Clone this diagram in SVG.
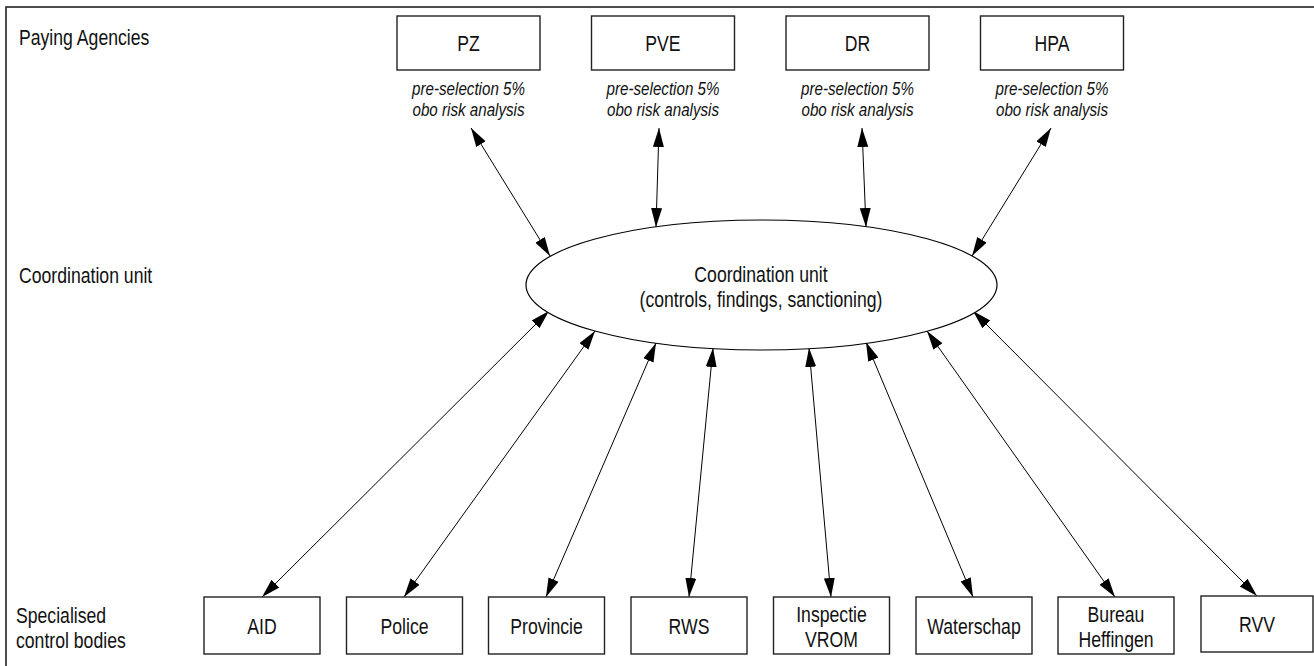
<svg xmlns="http://www.w3.org/2000/svg" width="1314" height="666" viewBox="0 0 1314 666">
<style>
text{font-family:"Liberation Sans",Arial,sans-serif;fill:#111;}
.lbl{font-size:21.5px;}
.c{text-anchor:middle;}
.note{font-size:18.5px;font-style:italic;text-anchor:middle;}
.box{fill:#fff;stroke:#222;stroke-width:1.4;}
.con{stroke:#000;stroke-width:1;fill:none;marker-start:url(#ah);marker-end:url(#ah);}
</style>
<defs>
<marker id="ah" markerUnits="userSpaceOnUse" markerWidth="20" markerHeight="12" refX="19" refY="5.5" orient="auto-start-reverse" viewBox="0 0 20 12">
<path d="M0,0 L19,5.5 L0,11 Z" fill="#000"/>
</marker>
</defs>
<rect x="6" y="7" width="1330" height="680" fill="#fff" stroke="#222" stroke-width="1.6"/>
<g id="row-labels">
<text class="lbl" transform="translate(19 45) scale(0.82 1)">Paying Agencies</text>
<text class="lbl" transform="translate(19 283) scale(0.82 1)">Coordination unit</text>
<text class="lbl" transform="translate(16 623) scale(0.82 1)">Specialised</text>
<text class="lbl" transform="translate(16 648) scale(0.82 1)">control bodies</text>
</g>
<g id="connectors">
<line class="con" x1="471" y1="128" x2="550" y2="256"/>
<line class="con" x1="659" y1="128" x2="656" y2="227"/>
<line class="con" x1="862" y1="128" x2="866" y2="227"/>
<line class="con" x1="1051" y1="128" x2="972" y2="256"/>
<line class="con" x1="549" y1="311" x2="262" y2="597"/>
<line class="con" x1="595" y1="331" x2="404" y2="597"/>
<line class="con" x1="656" y1="343" x2="546" y2="597"/>
<line class="con" x1="713" y1="348" x2="689" y2="597"/>
<line class="con" x1="809" y1="348" x2="831" y2="597"/>
<line class="con" x1="866" y1="342" x2="973" y2="597"/>
<line class="con" x1="927" y1="331" x2="1115" y2="597"/>
<line class="con" x1="973" y1="311" x2="1257" y2="596"/>
</g>
<g id="PZ">
<rect class="box" x="397" y="16" width="143" height="54"/>
<text class="lbl c" transform="translate(468.5 51) scale(0.82 1)">PZ</text>
<text class="note" transform="translate(468.5 95) scale(0.82 1)">pre-selection 5%</text>
<text class="note" transform="translate(468.5 116) scale(0.82 1)">obo risk analysis</text>
</g>
<g id="PVE">
<rect class="box" x="591.5" y="16" width="143" height="54"/>
<text class="lbl c" transform="translate(663 51) scale(0.82 1)">PVE</text>
<text class="note" transform="translate(663 95) scale(0.82 1)">pre-selection 5%</text>
<text class="note" transform="translate(663 116) scale(0.82 1)">obo risk analysis</text>
</g>
<g id="DR">
<rect class="box" x="786" y="16" width="143" height="54"/>
<text class="lbl c" transform="translate(857.5 51) scale(0.82 1)">DR</text>
<text class="note" transform="translate(857.5 95) scale(0.82 1)">pre-selection 5%</text>
<text class="note" transform="translate(857.5 116) scale(0.82 1)">obo risk analysis</text>
</g>
<g id="HPA">
<rect class="box" x="980.5" y="16" width="143" height="54"/>
<text class="lbl c" transform="translate(1052 51) scale(0.82 1)">HPA</text>
<text class="note" transform="translate(1052 95) scale(0.82 1)">pre-selection 5%</text>
<text class="note" transform="translate(1052 116) scale(0.82 1)">obo risk analysis</text>
</g>
<g id="coordination-unit">
<ellipse cx="761.5" cy="285" rx="235.5" ry="65" fill="#fff" stroke="#000" stroke-width="1.2"/>
<text class="lbl c" transform="translate(761 282) scale(0.82 1)">Coordination unit</text>
<text class="lbl c" transform="translate(761 307) scale(0.82 1)">(controls, findings, sanctioning)</text>
</g>
<g id="AID">
<rect class="box" x="204" y="597" width="116" height="57"/>
<text class="lbl c" transform="translate(262 634) scale(0.82 1)">AID</text>
</g>
<g id="Police">
<rect class="box" x="346.5" y="597" width="116" height="57"/>
<text class="lbl c" transform="translate(404.5 634) scale(0.82 1)">Police</text>
</g>
<g id="Provincie">
<rect class="box" x="488.5" y="597" width="116" height="57"/>
<text class="lbl c" transform="translate(546.5 634) scale(0.82 1)">Provincie</text>
</g>
<g id="RWS">
<rect class="box" x="631" y="597" width="116" height="57"/>
<text class="lbl c" transform="translate(689 634) scale(0.82 1)">RWS</text>
</g>
<g id="Inspectie-VROM">
<rect class="box" x="773.5" y="597" width="116" height="57"/>
<text class="lbl c" transform="translate(831.5 622) scale(0.82 1)">Inspectie</text>
<text class="lbl c" transform="translate(831.5 647) scale(0.82 1)">VROM</text>
</g>
<g id="Waterschap">
<rect class="box" x="916" y="597" width="116" height="57"/>
<text class="lbl c" transform="translate(974 634) scale(0.82 1)">Waterschap</text>
</g>
<g id="Bureau-Heffingen">
<rect class="box" x="1058" y="597" width="116" height="57"/>
<text class="lbl c" transform="translate(1116 622) scale(0.82 1)">Bureau</text>
<text class="lbl c" transform="translate(1116 647) scale(0.82 1)">Heffingen</text>
</g>
<g id="RVV">
<rect class="box" x="1201" y="596" width="112" height="56"/>
<text class="lbl c" transform="translate(1257 632) scale(0.82 1)">RVV</text>
</g>
</svg>
